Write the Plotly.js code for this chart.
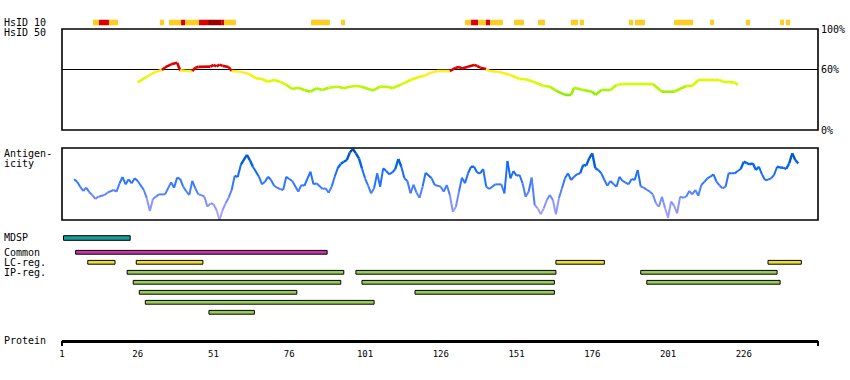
<!DOCTYPE html>
<html><head><meta charset="utf-8">
<script src="https://cdn.plot.ly/plotly-3.0.1.min.js"></script>
<style>html,body{margin:0;padding:0;background:#fff}#chart{width:850px;height:380px}</style>
</head><body><div id="chart"></div>
<script>
// ---------- data ----------
const tickResidues = [1, 26, 51, 76, 101, 126, 151, 176, 201, 226];
const tickLabels = ['1', '26', '51', '76', '101', '126', '151', '176', '201', '226'];
const proteinEnd = 250.5;

// HsID 10 strip: start, end residue, level (1 = yellow, 2 = red, 3 = dark red)
const hs10Start = [11.2, 13.2, 16.5, 33.3, 36.3, 40.3, 41.6, 46.2, 49.2, 53.5, 54.5, 83.2, 93.1, 134.0, 136.0, 138.3, 140.9, 142.3, 150.2, 158.1, 168.9, 171.9, 188.1, 190.1, 203.0, 214.9, 226.7, 238.0, 239.9];
const hs10End   = [13.2, 16.5, 19.5, 34.7, 40.3, 41.6, 46.2, 49.2, 53.5, 54.5, 58.4, 89.4, 94.4, 136.0, 138.3, 140.9, 142.3, 146.5, 153.5, 160.4, 171.3, 173.3, 189.5, 193.4, 209.3, 216.2, 228.1, 239.3, 241.3];
const hs10Level = [1, 2, 1, 1, 1, 2, 1, 2, 3, 2, 1, 1, 1, 1, 2, 1, 2, 1, 1, 1, 1, 1, 1, 1, 1, 1, 1, 1, 1];

// HsID 50 (% identity)
const hs50Res = [26, 29, 32, 34, 35, 37, 39, 40, 42, 44, 45, 46, 50, 51, 52, 53, 54, 56, 57, 60, 63, 65, 67, 69, 71, 73, 75, 77, 79, 81, 83, 85, 87, 89, 92, 94, 96, 98, 100, 103, 104, 106, 109, 110, 113, 116, 119, 121, 122, 125, 127, 129, 131, 132, 133, 135, 137, 138, 139, 141, 142, 145, 149, 152, 154, 157, 160, 162, 164, 167, 169, 170, 173, 176, 177, 179, 182, 184, 186, 196, 199, 203, 207, 209, 211, 218, 219, 223, 224];
const hs50Val = [47.2, 52.8, 57.7, 59.4, 62, 65, 66.6, 59, 58.4, 58.4, 61.7, 62.5, 62.7, 64.4, 63, 64.7, 63.5, 62.4, 58.4, 57.7, 55.1, 51.2, 50.5, 47.8, 49.5, 47.8, 44.6, 40.6, 41.9, 39.6, 37.9, 41.3, 39.6, 41.9, 42.9, 41.3, 42.9, 43.6, 42.9, 39.6, 39.6, 42.9, 42.6, 41.3, 45.2, 49.5, 52.8, 54, 56.1, 58.4, 58.4, 58.4, 61.7, 62.4, 61, 62.7, 64.4, 63.5, 61.7, 60.4, 58.4, 57.7, 54.5, 50.5, 50.2, 47.2, 43.6, 42.9, 39, 34.7, 34.7, 41.9, 39.6, 37.9, 34.7, 39.6, 39.6, 44.6, 45.5, 45.5, 37.9, 37.9, 43.6, 43.6, 49.5, 49.5, 47.8, 47.2, 44.6];

// Antigenicity (relative score 0-100)
const antiRes = [5, 6, 7, 8, 9, 10, 11, 12, 13, 15, 16, 18, 19, 20, 21, 22, 23, 24, 25, 26, 28, 29, 30, 31, 32, 33, 35, 37, 38, 39, 40, 41, 42, 43, 44, 45, 46, 47, 48, 49, 50, 51, 52, 53, 54, 55, 56, 57, 58, 59, 60, 62, 63, 64, 66, 67, 68, 69, 70, 71, 72, 73, 74, 75, 76, 77, 79, 80, 81, 83, 84, 85, 87, 88, 89, 90, 91, 92, 93, 94, 95, 96, 97, 98, 99, 100, 101, 102, 103, 104, 105, 106, 107, 108, 109, 110, 111, 112, 113, 114, 115, 116, 117, 118, 119, 120, 121, 123, 124, 126, 127, 128, 129, 130, 131, 132, 133, 134, 135, 136, 137, 138, 139, 140, 141, 142, 144, 146, 147, 148, 149, 150, 151, 152, 153, 154, 155, 156, 157, 158, 159, 160, 161, 162, 163, 164, 165, 166, 167, 168, 169, 170, 171, 172, 173, 174, 175, 176, 177, 178, 179, 180, 181, 182, 183, 184, 185, 186, 187, 188, 189, 190, 191, 192, 193, 194, 195, 196, 197, 198, 199, 200, 201, 202, 203, 204, 205, 206, 207, 208, 209, 210, 211, 212, 213, 214, 215, 216, 217, 218, 219, 220, 221, 222, 223, 224, 225, 226, 227, 228, 229, 230, 231, 232, 233, 234, 235, 236, 237, 238, 239, 240, 241, 242, 243, 244];
const antiVal = [56.5, 53.2, 46.3, 40.3, 44.9, 38.5, 34.7, 29.2, 32.4, 34.7, 37.9, 41.7, 39.3, 51, 59.7, 49.5, 56.5, 51, 57.9, 54.2, 41.7, 30, 12.5, 29.2, 32.4, 35.6, 35.6, 52.3, 44.9, 58.8, 57, 46.3, 40, 34.7, 54.2, 44, 35.6, 34.7, 32.4, 18.5, 23.2, 21.8, 13.9, 0, 13.9, 23.2, 31, 41.7, 61.5, 59.7, 76.4, 90.3, 83.3, 74, 60.1, 49.5, 53.2, 60.1, 55.6, 47.6, 44.9, 43, 41.7, 60.1, 57, 54.2, 39.3, 48.6, 47.6, 67.1, 49.5, 51, 43, 44, 37.9, 46.3, 60.1, 72, 78, 81, 83.3, 94, 98.6, 92.6, 85.7, 71.8, 57.9, 48, 37, 44, 64.8, 46.3, 71.8, 68, 63.5, 66, 70.8, 84.7, 74, 57.9, 54.2, 37, 49, 38, 31, 46.3, 65.7, 57.9, 48.6, 46.3, 39.3, 48.6, 34.7, 11.5, 18.5, 39.3, 58.8, 51, 64.8, 74, 74, 66, 64.8, 70.8, 46.3, 43, 49.5, 49.5, 37, 81.9, 57.9, 68, 61.5, 62.5, 51, 32.4, 39.3, 58.8, 20.8, 16.2, 7.9, 16.2, 27.8, 34.7, 27.8, 7.9, 30.1, 44, 57.9, 64.8, 55.6, 60, 63.5, 64.8, 76.4, 75.5, 85.7, 92.6, 71.8, 69.4, 64.8, 55.6, 47.6, 54.2, 50, 46.3, 60.1, 54.2, 52, 49.5, 57, 55.6, 69.4, 46.3, 44.9, 42, 39.3, 35.6, 23.2, 18.5, 32.4, 17.1, 3.2, 25.5, 19.9, 9.3, 32.4, 31, 32.4, 40.3, 35.6, 41.7, 33.8, 48.6, 53, 57.9, 60.1, 63.5, 53.2, 48, 44, 46.3, 64.8, 65, 64.8, 68, 70.8, 81, 79, 77.4, 78.7, 69.4, 74, 63.5, 55.6, 56, 57.9, 62.5, 74, 73, 72.6, 70.8, 78.7, 92.6, 83.3, 78.7];

// Feature tracks
const featTrack = ['MDSP', 'Common', 'LC-reg.', 'LC-reg.', 'LC-reg.', 'LC-reg.', 'IP-reg.', 'IP-reg.', 'IP-reg.', 'IP-reg.', 'IP-reg.', 'IP-reg.', 'IP-reg.', 'IP-reg.', 'IP-reg.', 'IP-reg.'];
const featLane  = [0, 0, 0, 0, 0, 0, 0, 0, 0, 1, 1, 1, 2, 2, 3, 4];
const featStart = [1.5, 5.5, 9.5, 25.5, 164, 234, 22.5, 98, 192, 24.5, 100, 194, 26.5, 117.5, 28.5, 49.5];
const featEnd   = [23.5, 88.5, 18.5, 47.5, 180, 245, 94, 164, 237, 93, 163.5, 238, 78.5, 163.5, 104, 64.5];

// ---------- styles / layout helpers ----------
const W = 850, H = 380;
const py = p => 1 - p / H;
const mono = 'DejaVu Sans Mono, monospace';
const levelColor = {1: '#ffcc22', 2: '#dd0000', 3: '#990000'};
const trackColor = {'MDSP': '#189a9a', 'Common': '#cc33aa', 'LC-reg.': '#eedd33', 'IP-reg.': '#99cc55'};
const trackLaneY = {'MDSP': [238], 'Common': [252.3], 'LC-reg.': [262.3], 'IP-reg.': [272.3, 282.3, 292.3, 302.3, 312.3]};

function hexToRgb(h){return [parseInt(h.slice(1,3),16),parseInt(h.slice(3,5),16),parseInt(h.slice(5,7),16)];}
function grad(stops, v){
  if (v <= stops[0][0]) return stops[0][1];
  for (let i = 1; i < stops.length; i++) {
    if (v <= stops[i][0]) {
      const t = (v - stops[i-1][0]) / (stops[i][0] - stops[i-1][0]);
      const a = hexToRgb(stops[i-1][1]), b = hexToRgb(stops[i][1]);
      return 'rgb(' + a.map((c, k) => Math.round(c + (b[k] - c) * t)).join(',') + ')';
    }
  }
  return stops[stops.length-1][1];
}
const hsStops = [[35, '#88ea00'], [45, '#ccff00'], [52, '#eef600'], [55, '#ffee22'], [60, '#ffee22']];
function hsColor(v){ return v > 60 ? '#dd0000' : grad(hsStops, v); }
const antiStops = [[0, '#b4a8ff'], [20, '#8c96ff'], [40, '#4d80ff'], [60, '#1f6fff'], [80, '#0062e6'], [100, '#0048a6']];

const traces = [];
// HsID 10 strip
traces.push({
  type: 'bar', orientation: 'h', xaxis: 'x', yaxis: 'y',
  y: hs10Start.map(() => 0.5), base: hs10Start, x: hs10End.map((e, i) => e - hs10Start[i]),
  width: 0.55, marker: {color: hs10Level.map(l => levelColor[l]), line: {width: 0}},
  hoverinfo: 'skip', showlegend: false
});
// HsID 50 line, coloured per segment
for (let i = 0; i < hs50Res.length - 1; i++) {
  const m = (hs50Val[i] + hs50Val[i+1]) / 2;
  traces.push({type: 'scatter', mode: 'lines', xaxis: 'x', yaxis: 'y2',
    x: [hs50Res[i], hs50Res[i+1]], y: [hs50Val[i], hs50Val[i+1]],
    line: {color: hsColor(Math.max(hs50Val[i], hs50Val[i+1]) > 60 && m > 59.5 ? 61 : m), width: 2.6},
    hoverinfo: 'skip', showlegend: false});
}
// Antigenicity line
for (let i = 0; i < antiRes.length - 1; i++) {
  const m = (antiVal[i] + antiVal[i+1]) / 2;
  traces.push({type: 'scatter', mode: 'lines', xaxis: 'x', yaxis: 'y3',
    x: [antiRes[i], antiRes[i+1]], y: [antiVal[i], antiVal[i+1]],
    line: {color: grad(antiStops, m), width: m > 70 ? 2.4 : 2},
    hoverinfo: 'skip', showlegend: false});
}
// Feature tracks
['MDSP', 'Common', 'LC-reg.', 'IP-reg.'].forEach(t => {
  const idx = featTrack.map((f, i) => f === t ? i : -1).filter(i => i >= 0);
  traces.push({type: 'bar', orientation: 'h', xaxis: 'x', yaxis: 'y4',
    y: idx.map(i => trackLaneY[t][featLane[i]]), base: idx.map(i => featStart[i]),
    x: idx.map(i => featEnd[i] - featStart[i]), width: t === 'MDSP' ? 4.6 : 3.8,
    marker: {color: trackColor[t], line: {color: '#000', width: 1}},
    hoverinfo: 'skip', showlegend: false});
});
// dummy for end-tick axis
traces.push({type: 'scatter', mode: 'markers', xaxis: 'x2', yaxis: 'y5', x: [1], y: [0.5],
  marker: {opacity: 0}, hoverinfo: 'skip', showlegend: false});

const xd = [62 / W, 818 / W];
const label = (txt, x, yp) => ({text: txt, xref: 'paper', yref: 'paper', x: x / W, y: py(yp),
  xanchor: 'left', yanchor: 'middle', showarrow: false, font: {family: mono, size: 10, color: '#000'}});
const frame = yr => ({type: 'rect', xref: 'x domain', yref: yr + ' domain', x0: 0, x1: 1, y0: 0, y1: 1,
  line: {color: '#000', width: 1.6}, layer: 'above'});

const layout = {
  width: W, height: H, margin: {l: 0, r: 0, t: 0, b: 0},
  paper_bgcolor: '#fff', plot_bgcolor: 'rgba(0,0,0,0)', barmode: 'overlay', showlegend: false,
  font: {family: mono, size: 10, color: '#000'},
  xaxis: {domain: xd, range: [1, proteinEnd], anchor: 'y5', showline: true, linewidth: 3, linecolor: '#000',
    tickvals: tickResidues, ticktext: tickLabels, ticks: '', showgrid: false, zeroline: false,
    tickfont: {family: mono, size: 9, color: '#000'}, ticklabelstandoff: 3},
  xaxis2: {domain: xd, range: [1, proteinEnd], anchor: 'y5', overlaying: 'x', side: 'bottom',
    tickvals: [1, proteinEnd], ticks: 'outside', ticklen: 5, tickwidth: 2, tickcolor: '#000',
    showticklabels: false, showgrid: false, zeroline: false, showline: false},
  yaxis: {domain: [py(27.5), py(17.5)], range: [0, 1], anchor: 'x', visible: false, fixedrange: true},
  yaxis2: {domain: [py(130), py(29)], range: [0, 100], anchor: 'x', side: 'right',
    tickvals: [0, 60, 100], ticktext: ['0%', '60%', '100%'], ticks: '', showgrid: true,
    gridcolor: '#000', gridwidth: 1.5, zeroline: false, showline: false,
    tickfont: {family: mono, size: 10, color: '#000'}, ticklabelstandoff: 2},
  yaxis3: {domain: [py(220), py(148)], range: [0, 100], anchor: 'x', showticklabels: false,
    ticks: '', showgrid: false, zeroline: false, showline: false},
  yaxis4: {domain: [py(322), py(228)], range: [322, 228], anchor: 'x', visible: false},
  yaxis5: {domain: [py(340), py(330)], range: [0, 1], anchor: 'x', visible: false},
  shapes: [frame('y2'), frame('y3')],
  annotations: [
    label('HsID 10', 2, 22.5), label('HsID 50', 2, 32.7),
    label('Antigen-', 2, 153.3), label('icity', 2, 163.3),
    label('MDSP', 2, 238), label('Common', 2, 252.3), label('LC-reg.', 2, 262.3), label('IP-reg.', 2, 272.3),
    label('Protein', 2, 340)
  ]
};
Plotly.newPlot('chart', traces, layout, {staticPlot: true, displayModeBar: false});
</script></body></html>
